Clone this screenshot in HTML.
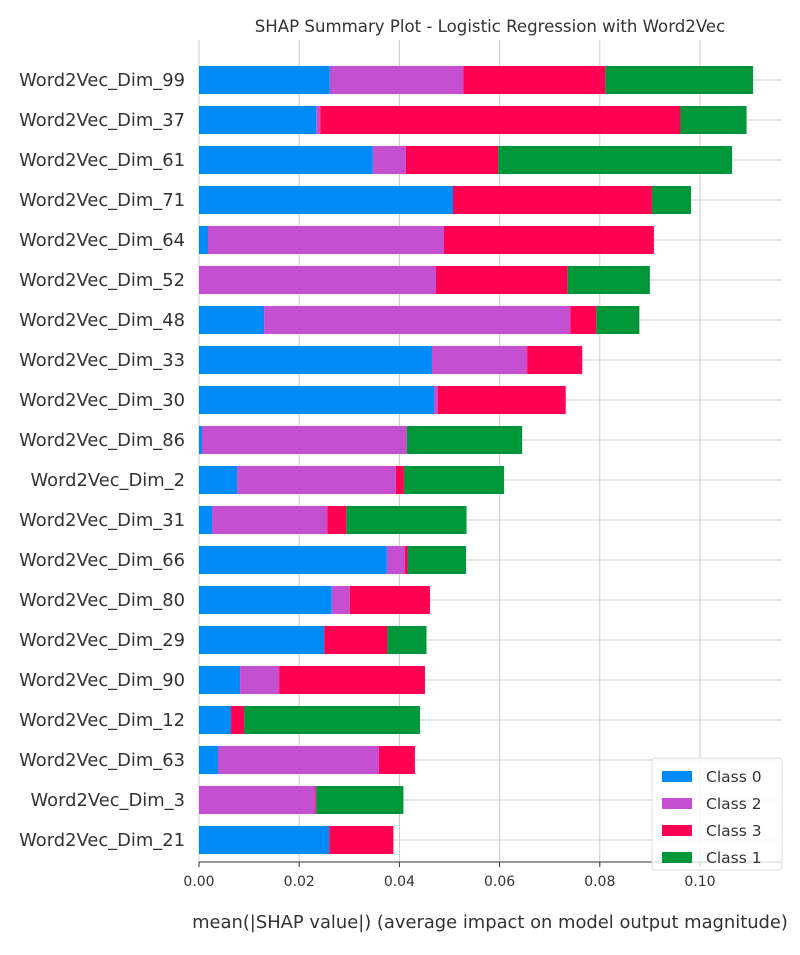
<!DOCTYPE html>
<html><head><meta charset="utf-8"><style>
body{margin:0;background:#fff;font-family:"Liberation Sans","DejaVu Sans",sans-serif}
</style></head><body>
<svg id="chart" width="800" height="950" xmlns="http://www.w3.org/2000/svg" font-family="DejaVu Sans, Liberation Sans, sans-serif"></svg>
<script>
const features=["Word2Vec_Dim_99","Word2Vec_Dim_37","Word2Vec_Dim_61","Word2Vec_Dim_71","Word2Vec_Dim_64","Word2Vec_Dim_52","Word2Vec_Dim_48","Word2Vec_Dim_33","Word2Vec_Dim_30","Word2Vec_Dim_86","Word2Vec_Dim_2","Word2Vec_Dim_31","Word2Vec_Dim_66","Word2Vec_Dim_80","Word2Vec_Dim_29","Word2Vec_Dim_90","Word2Vec_Dim_12","Word2Vec_Dim_63","Word2Vec_Dim_3","Word2Vec_Dim_21"];
const class0=[0.0261,0.0234,0.0347,0.0507,0.0018,0,0.013,0.0465,0.0469,0.0006,0.0076,0.0026,0.0375,0.0265,0.025,0.0082,0.0064,0.0038,0,0.026];
const class2=[0.0267,0.0008,0.0066,0,0.0471,0.0473,0.0611,0.019,0.0008,0.0409,0.0317,0.023,0.0036,0.0036,0,0.0078,0,0.0321,0.0232,0];
const class3=[0.0283,0.0719,0.0184,0.0397,0.0419,0.0263,0.0052,0.011,0.0255,0,0.0016,0.0038,0.0006,0.016,0.0126,0.0291,0.0026,0.0072,0.0002,0.0128];
const class1=[0.0295,0.0132,0.0467,0.0078,0,0.0164,0.0086,0,0,0.023,0.02,0.024,0.0116,0,0.0078,0,0.0351,0,0.0174,0];
const xTicks=[0,0.02,0.04,0.06,0.08,0.10];
const xTickLabels=["0.00","0.02","0.04","0.06","0.08","0.10"];
const legendLabels=["Class 0","Class 2","Class 3","Class 1"];
const colors=["#008bfb","#c54fd1","#ff0052","#00963a"];
const svg=document.getElementById('chart');
const NS="http://www.w3.org/2000/svg";
const x0=199,xScale=5010,plotTop=40,plotBottom=862,plotRight=782;
const xp=v=>x0+v*xScale;
const yp=i=>80+i*40;
function mk(tag,attrs,parent){const e=document.createElementNS(NS,tag);for(const k in attrs)e.setAttribute(k,attrs[k]);(parent||svg).appendChild(e);return e;}
xTicks.forEach((t,i)=>{if(i===0)return;const g=mk('line',{x1:xp(t),x2:xp(t),y1:plotTop,y2:plotBottom,stroke:'#cccccc','stroke-width':1});

});
features.forEach((f,i)=>{const g=mk('line',{x1:x0,x2:plotRight,y1:yp(i),y2:yp(i),stroke:'#cccccc','stroke-width':1});

});
const la=mk('line',{x1:x0,x2:x0,y1:plotTop,y2:plotBottom,stroke:'#cccccc','stroke-width':1});


const series=[class0,class2,class3,class1];
features.forEach((f,i)=>{let acc=0;series.forEach((s,k)=>{const v=s[i];if(v>0){const r=mk('rect',{x:xp(acc),y:yp(i)-14,width:v*xScale,height:28,fill:colors[k]});

}acc+=v;});
const t=mk('text',{x:185,y:yp(i)+6,'text-anchor':'end','font-size':17.9,fill:'#333'});t.textContent=f;

});
const ax=mk('line',{x1:x0,x2:plotRight,y1:plotBottom,y2:plotBottom,stroke:'#333','stroke-width':1});


xTicks.forEach((t,i)=>{const tk=mk('line',{x1:xp(t),x2:xp(t),y1:plotBottom,y2:plotBottom+5,stroke:'#333'});


const lb=mk('text',{x:xp(t),y:plotBottom+24,'text-anchor':'middle','font-size':14,fill:'#333'});lb.textContent=xTickLabels[i];

});
const xt=mk('text',{x:490,y:928,'text-anchor':'middle','font-size':17.9,fill:'#333'});xt.textContent="mean(|SHAP value|) (average impact on model output magnitude)";


const tt=mk('text',{x:490,y:32,'text-anchor':'middle','font-size':16.6,fill:'#333'});tt.textContent="SHAP Summary Plot - Logistic Regression with Word2Vec";


const lg=mk('rect',{x:652,y:758,width:130,height:112,fill:'#fff','fill-opacity':0.8,stroke:'#ddd',rx:3});


legendLabels.forEach((l,k)=>{const y=776+k*27;const r=mk('rect',{x:662,y:y-5,width:30,height:11,fill:colors[k]});


const t=mk('text',{x:706,y:y+6,'font-size':15.5,fill:'#333'});t.textContent=l;

});
</script>
</body></html>
